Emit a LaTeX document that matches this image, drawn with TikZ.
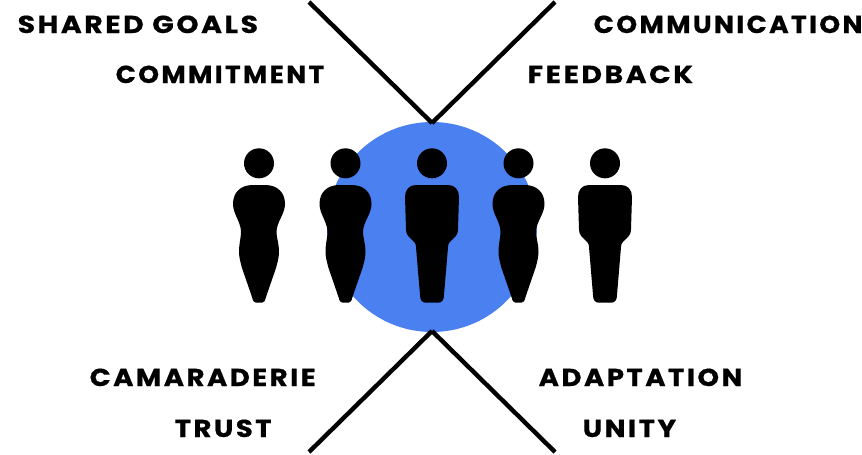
\documentclass[tikz,border=0pt]{standalone}
\usepackage{fontspec}
\setmainfont{Poppins}[UprightFont=* Bold,BoldFont=* Bold,LetterSpace=9,FakeBold=0.6]
\definecolor{hubblue}{HTML}{4A80F0}
\tikzset{
  lbl/.style={font=\fontsize{24.5}{26}\selectfont,text=black,inner sep=0pt,anchor=base west},
  spoke/.style={draw=black,line width=4.4pt},
  head/.style={circle,fill=black,minimum size=30pt,inner sep=0pt},
  hub/.style={circle,fill=hubblue,minimum size=210pt,inner sep=0pt}
}
\newcommand{\stretchw}[2]{\scalebox{#1}[1]{#2}}
\newcommand{\womanbody}[1]{%
  \fill[shift={(#1,0)}] (-6,185)
   .. controls (-19,185) and (-26,193) .. (-26,204)
   .. controls (-26,214) and (-18,222) .. (-18,232)
   .. controls (-18,238) and (-20,243) .. (-20,252)
   .. controls (-20,258) and (-18,264) .. (-17,268)
   -- (-7,297)
   .. controls (-6,301) and (-5,302.7) .. (-3,302.7)
   -- (3,302.7)
   .. controls (5,302.7) and (6,301) .. (7,297)
   -- (17,268)
   .. controls (18,264) and (20,258) .. (20,252)
   .. controls (20,243) and (17.5,238) .. (17.5,232)
   .. controls (17.5,222) and (26,214) .. (26,204)
   .. controls (26,193) and (19,185) .. (6,185) -- cycle;}
\newcommand{\manbody}[1]{%
  \fill[shift={(#1,0)}] (-16,185)
   .. controls (-23,185) and (-27,190) .. (-27,197)
   -- (-26,229)
   .. controls (-26,234) and (-24,236) .. (-21,239)
   .. controls (-18,242) and (-16,243) .. (-16,247)
   -- (-12,295)
   .. controls (-12,300) and (-10,302.7) .. (-6,302.7)
   -- (6,302.7)
   .. controls (10,302.7) and (12,300) .. (12,295)
   -- (16,247)
   .. controls (16,243) and (18,242) .. (21,239)
   .. controls (24,236) and (26,234) .. (26,229)
   -- (27,197)
   .. controls (27,190) and (23,185) .. (16,185) -- cycle;}
\begin{document}
\begin{tikzpicture}[x=1pt,y=-1pt]
\useasboundingbox (0,0) rectangle (862,455);
\coordinate (tl) at (309,2);
\coordinate (tr) at (555,2);
\coordinate (bl) at (309,452);
\coordinate (br) at (555,452);
\node[hub] (hubnode) at (432,227) {};
\coordinate (hubtop) at (432,123);
\coordinate (hubbot) at (432,331);
\draw[spoke] (tl) -- (hubtop);
\draw[spoke] (tr) -- (hubtop);
\draw[spoke] (bl) -- (hubbot);
\draw[spoke] (br) -- (hubbot);
\node[head] (h1) at (259,163.3) {};
\node[head] (h2) at (345.5,163.3) {};
\node[head] (h3) at (432,163.3) {};
\node[head] (h4) at (518.5,163.3) {};
\node[head] (h5) at (605,163.3) {};
\womanbody{259}
\womanbody{345.5}
\manbody{432}
\womanbody{518.5}
\manbody{605}
\node[lbl] (t1) at (17.5,33) {\stretchw{1.155}{SHARED GOALS}};
\node[lbl] (t2) at (115.5,83) {\stretchw{1.08}{COMMITMENT}};
\node[lbl] (t3) at (593.5,33) {\stretchw{1.082}{COMMUNICATION}};
\node[lbl] (t4) at (527.5,83) {\stretchw{1.155}{FEEDBACK}};
\node[lbl] (t5) at (89.5,386) {\stretchw{1.125}{CAMARADERIE}};
\node[lbl] (t6) at (174.5,437) {\stretchw{1.125}{TRUST}};
\node[lbl] (t7) at (538.5,386) {\stretchw{1.125}{ADAPTATION}};
\node[lbl] (t8) at (582.5,437) {\stretchw{1.13}{UNITY}};
\end{tikzpicture}
\end{document}
